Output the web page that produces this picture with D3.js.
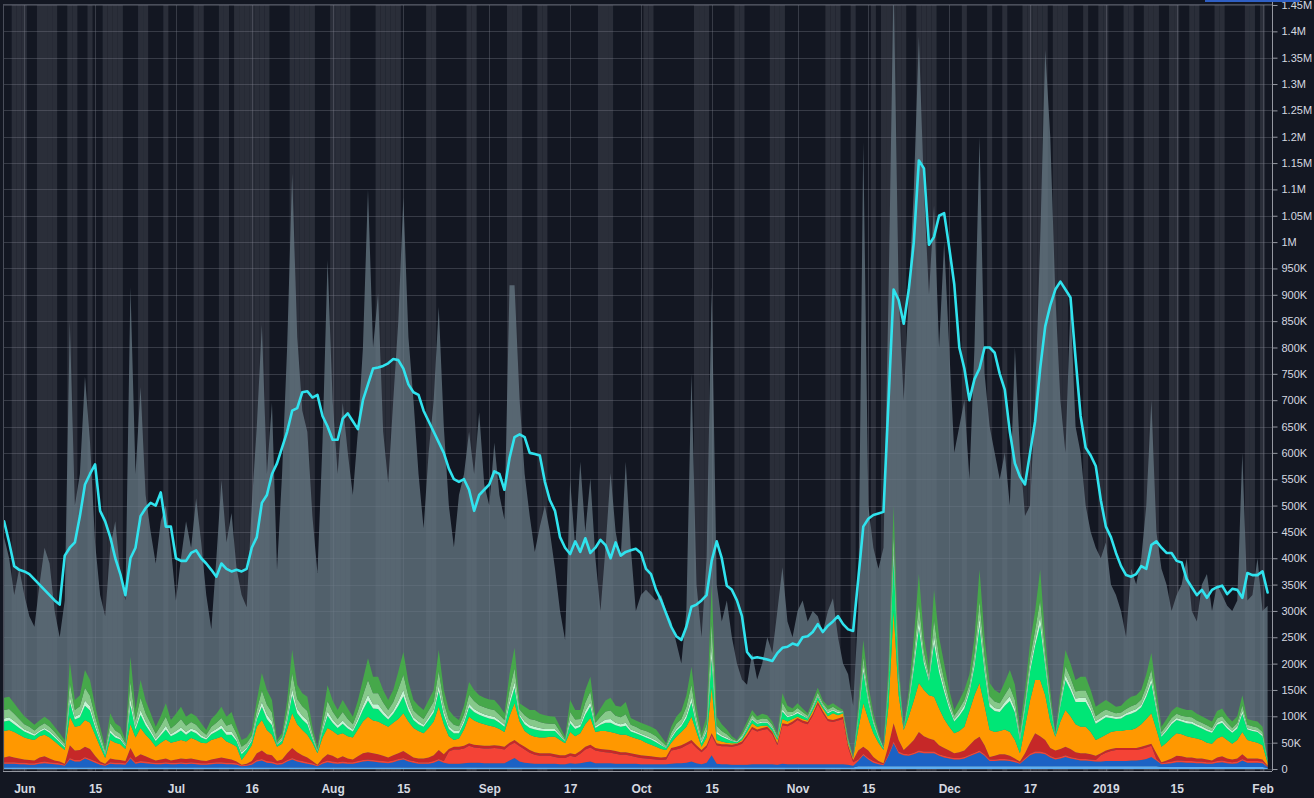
<!DOCTYPE html>
<html><head><meta charset="utf-8">
<script src="https://cdn.jsdelivr.net/npm/d3@7"></script>
<style>html,body{margin:0;padding:0;background:#131722;overflow:hidden}</style>
</head><body>
<svg id="chart" width="1314" height="798"></svg>
<script>
// ---------------- DATA (values in thousands, one per day from startDate) ----------------
const startDate = "2018-05-28";

const totalK = [
440,400,330,380,330,290,270,350,420,390,
300,250,320,850,500,560,745,620,430,330,
290,420,470,370,320,915,560,725,520,450,
390,470,500,420,320,400,470,420,514,430,
330,265,400,548,430,486,380,330,307,500,
650,843,560,695,378,560,800,1130,820,680,
640,480,372,620,966,700,560,695,600,520,
640,800,1100,800,903,640,543,700,850,1085,
820,700,560,457,600,700,877,650,500,421,
520,560,640,560,677,540,500,619,520,473,
918,918,700,560,480,412,460,500,450,380,
300,245,548,420,583,450,552,400,300,420,
562,450,400,583,420,300,330,340,330,320,
330,300,280,240,200,300,751,350,250,400,
915,350,280,320,250,200,170,160,220,170,
200,250,220,300,383,280,250,300,320,280,
300,290,260,300,324,250,200,180,120,300,
1190,500,420,380,420,900,1500,900,700,900,
1100,1390,1100,900,1070,800,1000,800,600,650,
700,550,800,1200,750,650,600,550,600,500,
800,600,480,500,700,1000,1365,1200,900,700,
600,884,650,600,500,450,420,400,430,350,
330,300,250,380,350,400,500,700,450,380,
350,300,330,350,400,300,280,350,370,300,
350,330,310,300,320,600,320,330,400,300,
310];

const avgK = [
470,430,385,378,375,370,360,350,340,330,
320,312,405,420,430,480,540,560,578,490,
470,440,400,370,330,400,420,480,495,505,
500,525,460,460,400,395,395,410,415,400,
390,378,365,390,380,375,378,375,380,420,
440,505,520,560,580,610,640,680,685,715,
717,705,710,670,650,625,625,665,675,660,
645,700,730,760,762,765,770,778,776,760,
730,715,710,680,660,640,620,600,570,550,
545,550,530,490,520,530,540,565,560,530,
590,630,635,630,600,598,595,545,510,490,
440,420,408,432,412,438,410,420,435,425,
400,430,405,412,415,418,410,380,370,340,
320,295,270,252,245,270,308,312,320,330,
395,432,400,348,340,320,290,222,210,212,
210,208,205,220,230,232,238,235,250,252,
260,275,260,272,280,290,275,265,262,360,
460,475,482,485,488,700,910,890,845,910,
1000,1155,1140,995,1010,1050,1055,990,920,800,
760,700,740,760,800,800,790,750,720,640,
580,555,540,600,660,760,840,880,910,925,
910,895,780,670,610,595,575,510,460,440,
410,385,368,365,370,385,380,425,432,420,
410,410,395,392,360,345,330,340,325,340,
345,348,332,342,340,325,372,368,368,375,
335];

const lightBlueK = [
3,3,3,3,3,3,3,3,3,3, 3,3,3,3,3,3,3,3,3,3, 3,3,3,3,3,3,3,3,3,3, 3,3,3,3,3,3,3,3,3,3,
3,3,3,3,3,3,3,3,3,3, 3,3,3,3,3,3,3,3,3,3, 3,3,3,3,3,3,3,3,3,3, 3,3,3,3,3,3,3,3,3,3,
3,3,3,3,3,3,3,3,3,3, 3,3,3,3,3,3,3,3,3,3, 3,3,3,3,3,3,3,3,3,3, 3,3,3,3,3,3,3,3,3,3,
3,3,3,3,3,3,3,3,3,3, 3,3,3,3,3,3,3,3,3,3, 3,3,3,3,3,3,3,3,3,3, 3,3,3,3,3,3,3,3,3,3,
3,3,3,3,3,3,3,3,3,5, 5,5,5,5,5,5,5,5,5,5, 5,5,5,5,5,5,5,5,5,5, 5,5,5,5,5,5,5,5,5,5,
5,5,5,5,5,5,5,5,5,5, 5,5,5,5,5,5,5,5,5,5, 5,5,5,5,5,5,5,5,5,4, 4,4,4,4,4,4,4,4,4,4,
4,4,4,4,4,4,4,4,4,4, 2];

const blueK = [
7,7,7,6,6,5,5,7,8,7,
6,5,3,15,11,11,17,13,9,5,
3,7,6,6,5,17,7,9,8,7,
6,6,7,6,6,7,6,7,6,5,
5,6,7,7,6,6,5,2,3,5,
11,13,9,8,5,6,11,15,11,9,
7,5,2,7,10,8,7,8,7,7,
9,11,12,11,10,9,8,10,13,15,
11,9,7,7,7,9,13,9,7,7,
7,8,9,9,9,8,8,8,8,8,
13,18,11,9,8,7,7,7,7,7,
6,6,8,7,8,10,11,8,8,8,
8,7,7,7,7,7,6,6,6,6,
6,6,7,8,8,9,11,8,6,9,
23,7,6,6,5,5,5,5,6,6,
6,6,6,5,7,6,6,6,6,6,
6,6,6,6,6,6,6,5,3,10,
21,13,7,4,2,20,44,25,21,20,
23,27,25,25,25,20,17,15,13,13,
15,19,23,27,20,10,10,11,11,10,
8,5,13,21,25,25,23,17,13,15,
18,15,13,11,11,10,9,9,10,10,
10,10,10,11,11,12,14,18,11,5,
6,7,9,9,8,8,7,7,6,6,
8,9,7,6,7,12,8,8,8,7,
2];

const redK = [
3,3,3,3,3,3,3,3,3,3,
3,3,2,3,3,3,3,3,3,3,
2,3,3,3,3,3,3,3,3,3,
3,3,3,3,3,3,3,3,3,3,
3,3,3,3,3,3,3,2,2,3,
3,3,3,3,3,3,3,3,3,3,
3,3,2,3,3,3,3,3,3,3,
3,3,3,3,3,3,3,3,3,3,
3,3,3,3,3,3,3,3,23,27,
27,28,32,29,28,28,28,29,28,26,
29,29,29,25,20,17,15,15,15,13,
12,12,14,13,18,24,27,24,22,21,
20,19,17,17,15,13,12,11,10,9,
8,9,25,26,29,33,36,29,23,29,
38,35,34,34,34,36,40,53,67,62,
65,67,57,37,73,72,77,84,79,76,
92,114,97,82,80,83,86,33,7,3,
3,3,3,3,2,3,3,3,3,3,
3,3,3,3,3,3,3,3,3,3,
3,3,3,3,3,3,3,3,3,3,
3,2,3,3,3,3,3,3,3,3,
3,3,3,3,3,3,3,12,16,19,
21,21,21,20,20,21,22,21,3,2,
3,3,3,3,3,3,3,3,3,3,
3,3,3,3,3,3,3,3,3,3,
1];

const darkRedK = [
9,11,9,8,6,6,5,9,10,7,
4,3,2,24,18,19,19,19,10,3,
2,7,6,5,4,17,9,13,10,7,
4,6,7,4,6,7,7,7,6,5,
4,6,7,9,8,6,3,1,2,4,
13,16,13,12,4,6,13,19,15,11,
9,4,1,7,12,11,7,10,7,5,
9,13,14,13,12,10,8,10,11,13,
11,7,7,7,9,11,17,13,5,5,
5,5,5,5,5,5,5,5,5,5,
5,5,5,5,5,5,5,5,5,5,
5,5,5,5,5,5,5,5,5,5,
5,5,5,5,5,5,5,5,5,5,
5,5,5,5,5,5,5,5,4,4,
4,4,4,4,4,4,4,4,4,4,
4,4,4,4,4,4,4,4,4,4,
4,4,4,4,4,4,4,4,4,17,
13,14,8,3,2,17,35,22,7,17,
24,35,29,25,22,17,15,12,9,11,
12,18,24,26,17,5,7,9,9,7,
4,2,9,21,35,29,24,15,14,15,
16,15,11,11,11,10,8,4,4,4,
4,4,4,4,4,4,4,4,11,2,
3,6,9,8,7,7,6,6,5,3,
7,8,6,5,6,9,5,5,5,4,
1];

const orangeK = [
50,50,48,45,42,40,39,40,41,40,
36,30,26,54,45,46,51,50,40,28,
11,35,32,30,23,45,38,50,41,35,
26,32,36,34,34,35,33,39,37,34,
34,37,38,39,32,30,28,9,20,30,
50,58,46,39,27,30,45,66,53,48,
43,35,22,40,50,47,45,44,42,42,
51,60,67,62,62,60,58,62,65,72,
62,56,52,48,56,64,82,57,24,13,
16,31,50,46,43,41,38,35,32,28,
50,70,42,30,29,29,30,30,31,33,
29,23,40,34,34,43,51,30,34,35,
34,34,33,33,31,30,29,25,22,19,
16,13,10,19,25,30,44,25,6,15,
87,6,5,3,3,1,3,5,7,5,
4,2,2,6,8,5,5,2,3,3,
5,4,5,5,13,6,7,5,4,40,
83,60,45,35,25,75,213,85,38,55,
75,93,88,82,82,70,55,45,38,40,
45,65,85,102,75,51,45,44,47,45,
35,16,50,80,101,107,85,50,26,52,
70,62,53,50,50,42,30,30,30,32,
32,32,34,34,38,43,50,58,45,29,
34,40,43,42,40,38,38,35,32,32,
36,38,35,30,35,42,35,32,30,27,
6];

const green1K = [
18,18,15,13,11,10,8,8,10,9,
8,7,5,29,14,16,27,23,15,11,
6,14,10,9,5,36,15,25,18,14,
11,14,19,12,15,18,13,13,13,10,
7,11,13,16,13,17,11,11,8,8,
14,25,21,18,4,6,15,34,21,20,
20,8,3,11,23,16,13,18,15,11,
15,22,31,23,24,18,14,17,25,32,
21,15,13,12,15,17,30,18,14,13,
10,13,18,16,15,14,14,14,12,10,
22,29,10,13,13,14,13,12,11,11,
7,3,17,14,12,18,22,8,12,16,
18,15,15,17,10,10,9,10,10,9,
7,4,8,11,11,17,27,13,7,11,
55,12,9,7,4,2,4,6,7,6,
6,6,5,4,14,8,6,7,6,4,
6,6,4,6,5,4,2,3,1,22,
60,32,19,10,3,40,100,30,3,25,
60,104,50,27,101,68,52,35,22,29,
35,35,55,107,65,44,40,36,45,59,
52,25,35,55,65,104,55,30,3,30,
57,50,42,47,47,40,31,32,33,27,
23,24,28,31,31,32,42,57,37,19,
22,25,25,24,25,26,23,22,22,21,
26,26,22,21,22,35,20,20,20,17,
4];

const paleGreenK = [
6,6,6,5,4,4,3,3,3,3,
3,2,2,10,5,6,10,8,6,4,
2,5,4,3,2,13,5,9,7,5,
4,5,7,4,5,6,5,5,5,4,
3,4,5,6,5,6,4,4,3,3,
5,9,8,7,1,2,6,12,8,7,
7,3,1,4,8,6,5,6,5,4,
6,8,11,8,9,7,5,6,9,12,
8,5,5,4,5,6,11,7,5,5,
4,5,7,6,5,5,5,5,4,4,
8,11,4,5,5,5,5,4,4,4,
3,1,6,5,4,7,8,3,4,6,
7,5,5,6,4,3,3,3,3,3,
2,1,3,4,4,6,10,5,3,4,
20,4,3,3,1,1,2,2,3,2,
2,2,2,1,5,3,2,3,2,1,
2,2,2,2,2,2,1,1,0,4,
10,5,3,2,1,6,16,5,1,4,
10,17,8,4,16,11,8,6,4,5,
6,6,9,17,10,7,6,6,7,9,
8,4,6,9,10,17,9,5,1,5,
9,8,7,8,8,6,5,5,5,4,
4,4,4,5,5,5,7,9,6,3,
4,4,4,4,4,4,4,4,4,3,
4,4,4,3,4,6,3,3,3,3,
1];

const green2K = [
16,16,14,12,10,9,7,8,9,8,
7,6,5,26,13,15,24,20,14,10,
5,13,9,8,4,32,13,23,16,13,
10,13,17,11,13,16,12,12,11,9,
6,10,12,14,12,15,10,10,8,7,
13,22,19,17,3,5,14,30,19,18,
18,8,3,10,20,15,12,16,13,10,
14,20,28,21,21,16,13,16,23,29,
19,13,12,11,13,15,27,16,13,11,
9,11,17,15,13,13,13,13,11,9,
20,26,9,12,12,13,11,11,10,10,
6,3,15,13,11,16,20,7,11,15,
16,13,13,16,9,9,8,9,9,8,
6,3,8,10,10,15,24,12,7,10,
49,11,8,6,3,1,4,5,6,5,
6,5,5,3,12,8,5,7,5,4,
5,6,4,5,5,4,1,3,0,7,
18,10,6,3,1,12,30,9,1,8,
18,31,15,8,30,20,16,10,7,9,
10,10,16,32,20,13,12,11,14,18,
16,8,10,16,20,31,16,9,1,9,
17,15,13,14,14,12,9,10,10,8,
7,7,8,9,9,10,13,17,11,6,
7,8,8,7,8,8,7,7,7,6,
8,8,7,6,7,10,6,6,6,5,
1];

const green3K = [
23,23,20,17,15,12,11,11,12,12,
10,9,7,39,19,21,34,30,20,13,
8,19,14,13,6,47,19,34,24,19,
13,18,26,16,20,23,17,17,16,14,
9,15,17,21,17,22,13,13,11,11,
18,33,28,24,5,7,20,44,27,25,
27,11,5,15,30,21,17,23,20,14,
20,30,41,31,31,24,19,23,33,43,
27,20,18,17,20,22,40,24,18,16,
12,16,24,21,19,18,18,19,17,13,
30,39,12,16,17,19,16,15,14,13,
9,5,23,18,17,24,28,11,16,21,
24,19,20,23,13,12,13,12,12,13,
9,5,11,13,15,22,34,18,9,15,
71,17,13,9,5,2,5,7,9,7,
9,7,6,5,18,11,7,9,7,5,
7,9,5,7,7,6,2,3,1,12,
32,18,10,5,1,22,54,16,1,13,
32,55,27,15,56,36,29,19,11,15,
19,19,30,59,35,25,22,19,24,32,
29,13,19,29,36,57,30,16,2,16,
31,27,22,26,26,22,18,18,18,16,
12,13,16,18,17,18,23,31,21,10,
12,13,13,14,13,14,13,12,12,12,
14,15,12,12,12,19,11,11,11,10,
2];

// days (index from startDate) with the lighter background band
const lightDays = [2,3,4,7,8,9,10,13,14,17,20,21,22,23,27,28,32,38,39,43,44,46,47,48,49,50,51,52,
57,58,59,60,61,65,66,67,68,74,75,76,77,78,84,85,92,93,100,101,102,106,107,118,119,120,127,128,
137,138,139,145,146,152,153,154,163,164,165,168,172,174,175,176,177,178,181,182,183,184,190,195,
198,202,203,204,205,206,208,209,210,214,217,218,222,223,226,227,228,231,232,235,236,240,241,246,247,249];

const xTickDates = ["2018-06-01","2018-06-15","2018-07-01","2018-07-16","2018-08-01","2018-08-15",
"2018-09-01","2018-09-17","2018-10-01","2018-10-15","2018-11-01","2018-11-15","2018-12-01",
"2018-12-17","2019-01-01","2019-01-15","2019-02-01"];
const xTickLabels = ["Jun","15","Jul","16","Aug","15","Sep","17","Oct","15","Nov","15","Dec","17","2019","15","Feb"];
const yTickValues = d3.range(0, 1450001, 50000);

const layerKeys   = ["lightBlue","blue","red","darkRed","orange","green1","paleGreen","green2","green3"];
const layerSeries = [lightBlueK, blueK, redK, darkRedK, orangeK, green1K, paleGreenK, green2K, green3K];
const layerColors = ["#5eaef2","#1c62c4","#f44336","#c62828","#ff9800","#00e676","#c4f5d2","#86c98a","#46a84a"];

// ---------------- CHART ----------------
const svg = d3.select("#chart");
const W = 1314, H = 798;
const P = {left: 3, right: 1272, top: 4, bottom: 771};
const parse = d3.timeParse("%Y-%m-%d");
const start = parse(startDate);
const dates = totalK.map((_, i) => d3.timeDay.offset(start, i));

const x = d3.scaleTime().domain([start, d3.timeDay.offset(start, 250)]).range([4.1, 4.1 + 250 * 5.054]);
const y = d3.scaleLinear().domain([0, 1450000]).range([769, 5]);
const dayW = x(d3.timeDay.offset(start, 1)) - x(start);

svg.append("rect").attr("width", W).attr("height", H).attr("fill", "#131722");

const defs = svg.append("defs");
defs.append("clipPath").attr("id", "plotclip").append("rect")
  .attr("x", P.left).attr("y", P.top).attr("width", P.right - P.left).attr("height", P.bottom - P.top);

const plot = svg.append("g").attr("clip-path", "url(#plotclip)");

// background bands
plot.append("g").selectAll("rect").data(lightDays).join("rect")
  .attr("x", d => x(dates[d]) - dayW / 2).attr("width", dayW)
  .attr("y", P.top).attr("height", P.bottom - P.top)
  .attr("fill", "#2a2e39");

// grid
const grid = plot.append("g").attr("stroke", "rgba(130,134,146,0.33)").attr("stroke-width", 1);
grid.selectAll("line.h").data(yTickValues).join("line").attr("class", "h")
  .attr("x1", P.left).attr("x2", P.right)
  .attr("y1", d => Math.round(y(d)) + 0.5).attr("y2", d => Math.round(y(d)) + 0.5);
grid.selectAll("line.v").data(xTickDates).join("line").attr("class", "v")
  .attr("y1", P.top).attr("y2", P.bottom)
  .attr("x1", d => Math.round(x(parse(d))) + 0.5).attr("x2", d => Math.round(x(parse(d))) + 0.5);

// grey total area
const totalArea = d3.area()
  .x((d, i) => x(dates[i])).y0(y(0)).y1(d => y(d * 1000));
plot.append("path").datum(totalK).attr("d", totalArea)
  .attr("fill", "rgba(104,122,134,0.74)");

// stacked layers
const rows = dates.map((d, i) => {
  const r = {date: d};
  layerKeys.forEach((k, j) => r[k] = (layerSeries[j][i] || 0) * 1000);
  return r;
});
const stacked = d3.stack().keys(layerKeys)(rows);
const stackArea = d3.area()
  .x(d => x(d.data.date)).y0(d => y(d[0])).y1(d => y(d[1]));
plot.append("g").selectAll("path").data(stacked).join("path")
  .attr("d", stackArea).attr("fill", (d, i) => layerColors[i]);

// cyan average line
const avgLine = d3.line().x((d, i) => x(dates[i])).y(d => y(d * 1000));
plot.append("path").datum(avgK).attr("d", avgLine)
  .attr("fill", "none").attr("stroke", "#30e3ee").attr("stroke-width", 2.6)
  .attr("stroke-linejoin", "round").attr("stroke-linecap", "round");

// borders
svg.append("line").attr("x1", P.left + 0.5).attr("x2", P.left + 0.5).attr("y1", P.top).attr("y2", P.bottom)
  .attr("stroke", "#4a4e5a");
svg.append("line").attr("x1", P.left).attr("x2", P.right).attr("y1", P.top + 0.5).attr("y2", P.top + 0.5)
  .attr("stroke", "#4a4e5a");

// right axis
const fmt = v => v === 0 ? "0" : (v >= 1e6 ? (v / 1e6) + "M" : (v / 1e3) + "K");
const yAxis = svg.append("g").attr("transform", `translate(${P.right + 0.5},0)`)
  .call(d3.axisRight(y).tickValues(yTickValues).tickFormat(fmt).tickSize(5).tickPadding(4));
yAxis.select(".domain").attr("stroke", "#9598a1").attr("d", `M0,0V${P.bottom}`);
yAxis.selectAll(".tick line").attr("stroke", "#9598a1");
yAxis.selectAll("text").attr("fill", "#d6d9e0").style("font-family", "'Liberation Sans', Arial, sans-serif")
  .style("font-size", "11px");

// bottom axis
const xAxis = svg.append("g").attr("transform", `translate(0,${P.bottom + 0.5})`)
  .call(d3.axisBottom(x).tickValues(xTickDates.map(parse))
    .tickFormat((d, i) => xTickLabels[i]).tickSize(0).tickPadding(13));
xAxis.select(".domain").attr("stroke", "#9598a1").attr("d", `M${P.left},0H${P.right}`);
xAxis.selectAll("text").attr("fill", "#d6d9e0").style("font-family", "'Liberation Sans', Arial, sans-serif")
  .style("font-size", "12px").style("font-weight", "bold");

// top-right small marker bar
svg.append("rect").attr("x", 1205).attr("y", 0).attr("width", 95).attr("height", 2).attr("fill", "#2f5fc4");
</script>
</body></html>
